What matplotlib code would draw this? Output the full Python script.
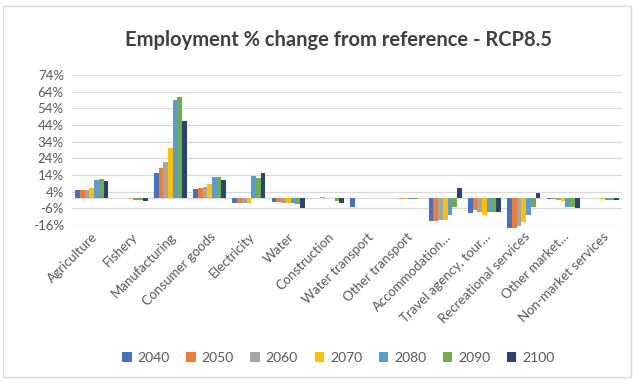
import matplotlib
matplotlib.use("Agg")
import matplotlib.pyplot as plt
import numpy as np
from matplotlib.patches import Patch, Rectangle

plt.rcParams['font.family'] = ['Lato', 'DejaVu Sans']

categories = ["Agriculture", "Fishery", "Manufacturing", "Consumer goods", "Electricity",
              "Water", "Construction", "Water transport", "Other transport",
              "Accommodation\u2026", "Travel agency, tour\u2026", "Recreational services",
              "Other market\u2026", "Non-market services"]

years = ["2040", "2050", "2060", "2070", "2080", "2090", "2100"]

v2040 = [5.2, 0.0, 15.2, 5.6, -3.0, -2.5, 0.0, -5.5, 0.0, -13.5, -9.0, -18.0, -0.5, 0.0]
v2050 = [5.0, 0.0, 18.2, 6.2, -3.0, -2.5, 0.3, 0.0, 0.0, -13.5, -7.0, -18.0, -0.5, 0.0]
v2060 = [5.0, 0.0, 21.8, 6.6, -3.0, -3.0, 0.5, 0.0, -0.3, -13.0, -8.0, -16.5, -1.0, 0.0]
v2070 = [6.4, -0.3, 30.0, 8.8, -3.0, -3.0, 0.3, 0.0, -0.3, -13.0, -10.0, -14.0, -1.8, -0.3]
v2080 = [11.2, -1.2, 58.7, 12.8, 13.2, -3.0, 0.0, 0.0, -0.3, -10.0, -8.0, -10.0, -5.0, -1.0]
v2090 = [11.8, -1.2, 60.5, 12.6, 12.4, -3.5, -1.5, 0.0, -0.3, -5.0, -8.0, -5.0, -5.5, -1.0]
v2100 = [10.6, -1.5, 46.5, 11.2, 15.2, -6.0, -3.0, 0.0, 0.0, 6.2, -8.0, 3.4, -6.0, -1.0]

series = [v2040, v2050, v2060, v2070, v2080, v2090, v2100]
colors = ["#4472C4", "#ED7D31", "#A5A5A5", "#FFC000", "#5B9BD5", "#70AD47", "#264478"]

yticks = [-16, -6, 4, 14, 24, 34, 44, 54, 64, 74]

fig = plt.figure(figsize=(6.38, 3.85), dpi=100)
fig.patches.append(Rectangle((0.004, 0.02), 0.985, 0.965, transform=fig.transFigure,
                             fill=False, edgecolor="#D9D9D9", linewidth=1))
ax = fig.add_axes([0.113, 0.4156, 0.862, 0.3896])

x = np.arange(len(categories))
w = 0.12
for i, (vals, c) in enumerate(zip(series, colors)):
    ax.bar(x + (i - 3) * w, vals, width=w, color=c, label=years[i], clip_on=False, zorder=3)

ax.set_xlim(-0.5, len(categories) - 0.5)
ax.set_ylim(-16, 74)
ax.set_yticks(yticks)
ax.set_yticklabels([f"{t}%" for t in yticks], fontsize=9.5, color="#595959")
ax.yaxis.grid(True, color="#D9D9D9", linewidth=0.9, zorder=0)
ax.axhline(0, color="#D9D9D9", linewidth=0.9, zorder=1)
ax.set_xticks(x)
ax.set_xticklabels(categories, rotation=45, ha="right", rotation_mode="anchor",
                   fontsize=9.5, color="#595959")
ax.tick_params(axis='both', length=0, pad=6)
ax.tick_params(axis='x', pad=4)
for s in ax.spines.values():
    s.set_visible(False)

fig.text(0.53, 0.895, "Employment % change from reference - RCP8.5", ha="center", va="center",
         fontsize=14.5, fontweight="bold", color="#404040")

handles = [Patch(facecolor=c, edgecolor="none", label=y) for c, y in zip(colors, years)]
fig.legend(handles=handles, loc="center", bbox_to_anchor=(0.53, 0.07), ncol=7,
           frameon=False, fontsize=10, handlelength=0.7, handleheight=0.7,
           handletextpad=0.4, columnspacing=1.2, labelcolor="#595959")

fig.savefig("out.png", dpi=100)
